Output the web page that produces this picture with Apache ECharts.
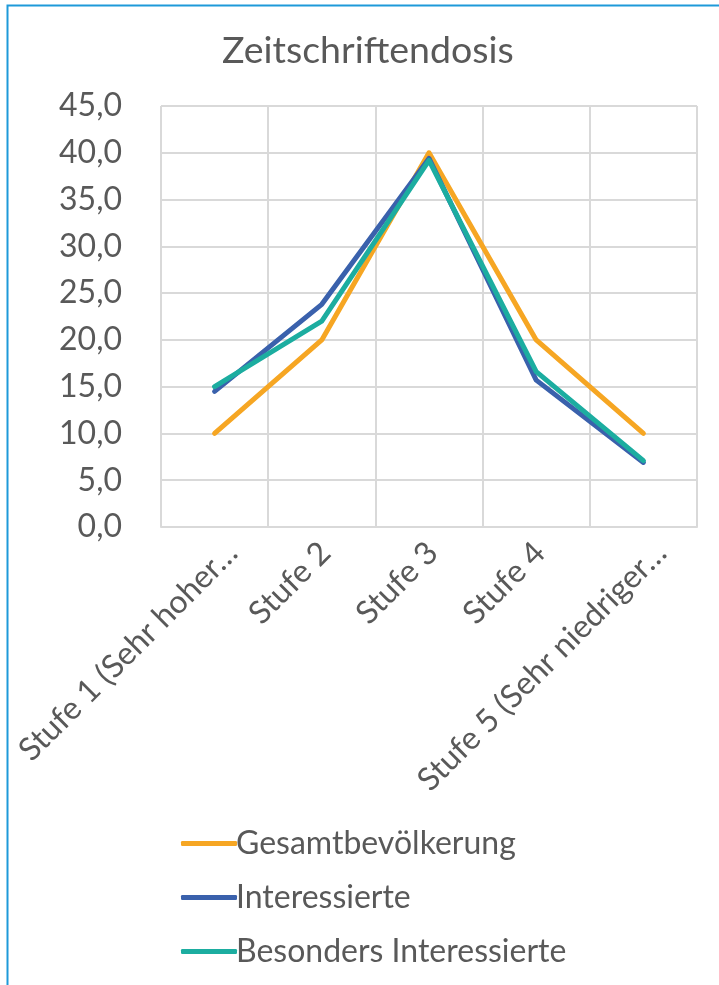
<!DOCTYPE html>
<html>
<head>
<meta charset="utf-8">
<script src="https://cdn.jsdelivr.net/npm/echarts@6/dist/echarts.min.js"></script>
<style>
  html, body { margin: 0; padding: 0; background: #fff; }
  #chart { width: 719px; height: 985px; }
</style>
</head>
<body>
<div id="chart"></div>
<script>
// Stufen der Zeitschriftennutzung
const categories = ['Stufe 1 (Sehr hoher…', 'Stufe 2', 'Stufe 3', 'Stufe 4', 'Stufe 5 (Sehr niedriger…'];

// Anteile in Prozent je Gruppe
const gesamtbevoelkerung = [10.0, 20.0, 40.0, 20.0, 10.0];
const interessierte = [14.5, 23.8, 39.4, 15.7, 6.9];
const besondersInteressierte = [15.0, 22.0, 39.2, 16.6, 7.1];

const seriesNames = ['Gesamtbevölkerung', 'Interessierte', 'Besonders Interessierte'];
const seriesColors = ['#F6A623', '#3A61AC', '#1CADA0'];

const textColor = '#595959';
const gridColor = '#D9D9D9';
const font = 'Lato';

const chart = echarts.init(document.getElementById('chart'));

const dataSets = [gesamtbevoelkerung, interessierte, besondersInteressierte];

// Shortened (truncated) names sit in a wider label box than the short ones
const labelStyle = {
  long: { lineHeight: 50, padding: [0, 0, 0, 0] },
  short: { lineHeight: 30, padding: [0, 10, 0, 0] }
};

chart.setOption({
  animation: false,
  backgroundColor: '#ffffff',
  title: {
    text: 'Zeitschriftendosis',
    left: 217,
    top: 27,
    textStyle: { color: textColor, fontFamily: font, fontSize: 37.5, fontWeight: 'normal' }
  },
  graphic: [{
    type: 'rect',
    shape: { x: 7.5, y: 5.5, width: 800, height: 1100 },
    style: { fill: 'none', stroke: '#1E9AD9', lineWidth: 2 },
    silent: true
  }],
  legend: {
    orient: 'vertical',
    left: 176,
    top: 821,
    itemWidth: 56,
    itemHeight: 5,
    itemGap: 19,
    icon: 'roundRect',
    data: seriesNames,
    textStyle: { color: textColor, fontFamily: font, fontSize: 32, lineHeight: 35, padding: [0, 0, 0, -6] }
  },
  grid: { left: 161, top: 106, right: 22, bottom: 458, outerBoundsMode: 'none', containLabel: false },
  xAxis: {
    type: 'category',
    data: categories,
    boundaryGap: true,
    axisTick: { show: false },
    axisLine: { lineStyle: { color: gridColor, width: 2 } },
    splitLine: { show: true, lineStyle: { color: gridColor, width: 2 } },
    axisLabel: {
      rotate: 45,
      interval: 0,
      margin: 3,
      verticalAlign: 'top',
      color: textColor,
      fontFamily: font,
      fontSize: 32,
      formatter: v => (v.endsWith('…') ? '{long|' : '{short|') + v + '}',
      rich: {
        long: Object.assign({ color: textColor, fontFamily: font, fontSize: 32 }, labelStyle.long),
        short: Object.assign({ color: textColor, fontFamily: font, fontSize: 32 }, labelStyle.short)
      }
    }
  },
  yAxis: {
    type: 'value',
    min: 0,
    max: 45,
    interval: 5,
    axisLine: { show: false },
    axisTick: { show: false },
    splitLine: { lineStyle: { color: gridColor, width: 2 } },
    axisLabel: {
      margin: 39,
      color: textColor,
      fontFamily: font,
      fontSize: 32,
      formatter: v => v.toFixed(1).replace('.', ',')
    }
  },
  series: dataSets.map((d, i) => ({
    name: seriesNames[i],
    type: 'line',
    data: d,
    symbol: 'none',
    color: seriesColors[i],
    lineStyle: { width: 5, cap: 'round', join: 'round' },
    z: 2 + i
  }))
});
</script>
</body>
</html>
